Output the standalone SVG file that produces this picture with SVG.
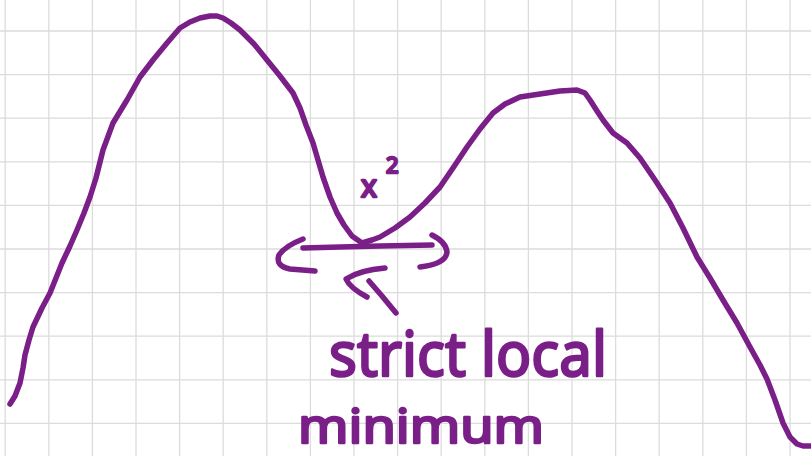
<svg xmlns="http://www.w3.org/2000/svg" width="811" height="456" viewBox="0 0 811 456">
<style>
.grid{stroke:#dcdcdc;stroke-width:1.3;fill:none}
.ink{stroke:#7b1f88;stroke-width:5.5;fill:none;stroke-linecap:round;stroke-linejoin:round}
.lbl{fill:#7b1f88;font-family:"Noto Sans","Liberation Sans",sans-serif;stroke:#7b1f88;stroke-width:2.5;stroke-linejoin:round}
</style>
<rect width="811" height="456" fill="#ffffff"/>
<g id="grid">
<path class="grid" d="M5.2 0V456M48.8 0V456M92.4 0V456M136 0V456M179.6 0V456M223.2 0V456M266.8 0V456M310.4 0V456M354 0V456M397.6 0V456M441.2 0V456M484.8 0V456M528.4 0V456M572 0V456M615.6 0V456M659.2 0V456M702.8 0V456M746.4 0V456M790 0V456"/>
<path class="grid" d="M0 31H811M0 74.6H811M0 118.2H811M0 161.8H811M0 205.4H811M0 249H811M0 292.6H811M0 336.2H811M0 379.8H811M0 423.4H811"/>
</g>
<g id="curve">
<path class="ink" d="M10 404 L15 396 L20 383 L23 368 L25 355 L29 340 L33 327 L42 308 L50 293 L56 278 L62 263 L70 246 L77 230 L84 213 L90 197 L96 178 L103 150 L113 123 L127 100 L140 77 L153 60 L167 43 L180 28 L190 22 L200 18 L210 16 L217 16 L223 18 L231 23 L240 30 L254 44 L267 60 L280 76 L293 93 L300 108 L306 125 L313 143 L318 160 L323 177 L330 197 L337 213 L344 225 L352 236 L362 243 L372 240 L380 237 L395 228 L410 217 L425 203 L440 187 L453 168 L467 147 L480 129 L493 113 L505 104 L520 97 L540 94 L560 91 L577 90 L585 93 L590 100 L597 111 L603 120 L613 133 L627 143 L640 158 L655 180 L670 203 L683 228 L697 257 L710 278 L723 300 L737 323 L750 347 L760 365 L767 379 L775 400 L783 423 L790 437 L797 444 L803 446 L810 446"/>
</g>
<g id="x-squared">
<text class="lbl" x="361" y="197" font-size="30" stroke-width="1.8">x</text>
<text class="lbl" x="386" y="173" font-size="22" stroke-width="1.8">2</text>
</g>
<g id="bracket">
<path class="ink" d="M303 248 L340 247 L380 246 L432 245"/>
<path class="ink" d="M303 239 Q285 246 279 255 Q275 266 290 269 L315 271"/>
<path class="ink" d="M432 235 Q446 242 447 252 Q446 264 420 267"/>
</g>
<g id="pointer">
<path class="ink" d="M385 268 Q360 270 346 279 Q350 288 367 297"/>
<path class="ink" d="M369 281 L382 296 L396 313"/>
</g>
<g id="label">
<text class="lbl" x="329" y="376" font-size="62" textLength="278" lengthAdjust="spacingAndGlyphs">strict local</text>
<text class="lbl" x="298" y="443" font-size="48" textLength="246" lengthAdjust="spacingAndGlyphs">minimum</text>
</g>
</svg>
